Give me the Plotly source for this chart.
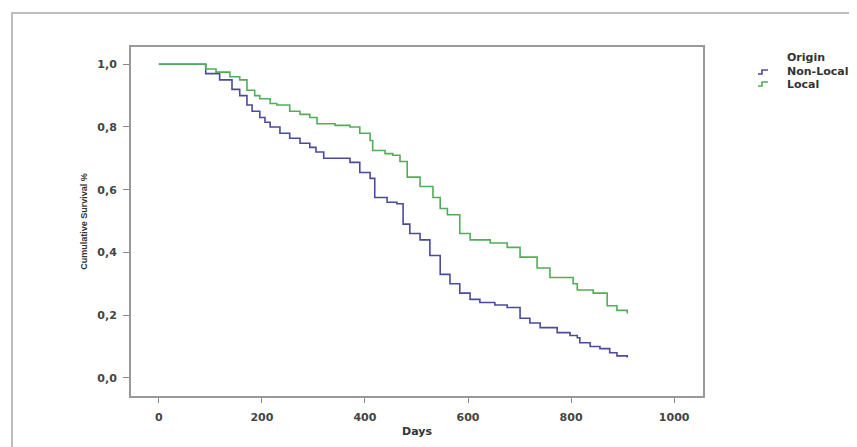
import plotly.graph_objects as go

# Kaplan-Meier step data (days, cumulative survival)
nonlocal_days = [0, 91, 118, 142, 157, 171, 181, 196, 206, 216, 235, 254, 274, 293, 305, 320,
                 371, 390, 410, 419, 443, 462, 474, 487, 507, 526, 546, 565, 584, 604, 623,
                 652, 676, 701, 720, 740, 773, 798, 812, 817, 837, 856, 875, 889, 909]
nonlocal_surv = [1.0, 0.97, 0.95, 0.92, 0.90, 0.87, 0.85, 0.83, 0.815, 0.80, 0.78, 0.764, 0.748,
                 0.735, 0.72, 0.70, 0.687, 0.655, 0.636, 0.575, 0.56, 0.555, 0.49, 0.46, 0.44,
                 0.39, 0.33, 0.30, 0.27, 0.25, 0.24, 0.232, 0.224, 0.19, 0.175, 0.16, 0.144,
                 0.135, 0.128, 0.112, 0.10, 0.093, 0.08, 0.07, 0.065]

local_days = [0, 91, 111, 138, 157, 171, 186, 196, 216, 229, 254, 274, 293, 307, 342, 371,
              390, 410, 415, 439, 454, 468, 482, 507, 532, 546, 560, 584, 604, 643, 676, 701,
              734, 759, 804, 812, 843, 870, 889, 909]
local_surv = [1.0, 0.985, 0.975, 0.96, 0.95, 0.917, 0.90, 0.89, 0.875, 0.87, 0.85, 0.84, 0.83,
              0.81, 0.805, 0.80, 0.78, 0.757, 0.725, 0.715, 0.71, 0.69, 0.64, 0.61, 0.575, 0.54,
              0.52, 0.46, 0.44, 0.43, 0.416, 0.385, 0.35, 0.32, 0.30, 0.28, 0.27, 0.23, 0.215,
              0.205]

series_names = ["Non-Local", "Local"]
series_colors = ["#4b4b9c", "#52ad5a"]
legend_title = "Origin"

x_ticks = [0, 200, 400, 600, 800, 1000]
y_ticks = [0.0, 0.2, 0.4, 0.6, 0.8, 1.0]
y_tick_labels = ["0,0", "0,2", "0,4", "0,6", "0,8", "1,0"]

# page has an 8px body margin: work in figure pixels = screen pixels - 8
OFF = 8
W, H = 857 - OFF, 447 - OFF
L, R, T, B = 131 - OFF, 703 - OFF, 47 - OFF, 396 - OFF
pw, ph = R - L, B - T


def px(x):  # screen x -> paper x
    return (x - OFF - L) / pw


def py(y):  # screen y -> paper y
    return (B - (y - OFF)) / ph


fig = go.Figure()
fig.add_trace(go.Scatter(x=nonlocal_days, y=nonlocal_surv, mode="lines", name=series_names[0],
                         line=dict(color=series_colors[0], width=1.6, shape="hv"),
                         showlegend=False))
fig.add_trace(go.Scatter(x=local_days, y=local_surv, mode="lines", name=series_names[1],
                         line=dict(color=series_colors[1], width=1.6, shape="hv"),
                         showlegend=False))

tick_font = dict(family="DejaVu Sans", size=11, color="#444", weight="bold")
fig.update_xaxes(range=[-54, 1056], tickvals=x_ticks, ticks="outside", ticklen=5,
                 tickcolor="#888", tickwidth=1, showline=True, linecolor="#999", linewidth=2,
                 mirror=True, showgrid=False, zeroline=False, tickfont=tick_font,
                 ticklabelstandoff=5, automargin=False,
                 title=dict(text="Days", standoff=4,
                            font=dict(family="DejaVu Sans", size=11, color="#333", weight="bold")))
fig.update_yaxes(range=[-0.058, 1.055], tickvals=y_ticks, ticktext=y_tick_labels,
                 ticks="outside", ticklen=6, tickcolor="#888", tickwidth=1, showline=True,
                 linecolor="#999", linewidth=2, mirror=True, showgrid=False, zeroline=False,
                 tickfont=tick_font, ticklabelstandoff=4, automargin=False,
                 title=dict(text="Cumulative Survival %", standoff=8,
                            font=dict(family="Liberation Sans", size=9, color="#333", weight="bold")))

# outer frame
fig.add_shape(type="rect", xref="paper", yref="paper",
              x0=px(12), x1=px(880), y0=py(470), y1=py(13),
              line=dict(color="#bdbdbd", width=2), fillcolor="rgba(0,0,0,0)", layer="below")

# legend (drawn manually to match the compact SPSS legend)
leg_font = dict(family="DejaVu Sans", size=11, color="#333", weight="bold")
fig.add_annotation(x=px(785), y=py(57), xref="paper", yref="paper", text=legend_title,
                   showarrow=False, xanchor="left", yanchor="middle", font=leg_font)
for i, (name, color, yc) in enumerate(zip(series_names, series_colors, [72, 84])):
    fig.add_annotation(x=px(785), y=py(yc), xref="paper", yref="paper", text=name,
                       showarrow=False, xanchor="left", yanchor="middle", font=leg_font)
    fig.add_shape(type="path", xref="paper", yref="paper",
                  path=f"M {px(758)},{py(yc + 2)} L {px(762)},{py(yc + 2)} L {px(762)},{py(yc - 2)} "
                       f"L {px(768)},{py(yc - 2)}",
                  line=dict(color=color, width=1.6))

fig.update_layout(
    width=W, height=H,
    margin=dict(l=L, r=W - R, t=T, b=H - B, autoexpand=False),
    paper_bgcolor="white", plot_bgcolor="white",
    showlegend=False,
)

fig.write_html("out.html")
